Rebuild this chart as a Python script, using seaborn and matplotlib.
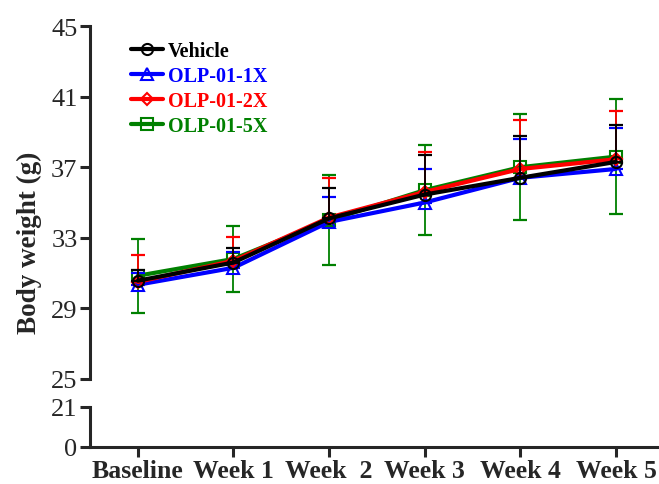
import matplotlib.pyplot as plt
import seaborn as sns
import pandas as pd

# Body weight means (g) and SD
weeks = ["Baseline", "Week 1", "Week  2", "Week 3", "Week 4", "Week 5"]

vehicle = [30.57, 31.6, 34.1, 35.45, 36.4, 37.3]
vehicle_sd = [0.63, 0.8, 1.7, 2.25, 2.35, 2.1]

olp_1x = [30.34, 31.3, 33.9, 35.0, 36.4, 36.9]
olp_1x_sd = [0.66, 0.9, 1.4, 1.9, 2.2, 2.3]

olp_2x = [30.5, 31.7, 34.15, 35.6, 36.9, 37.45]
olp_2x_sd = [1.55, 1.37, 2.25, 2.25, 2.8, 2.75]

olp_5x = [30.85, 31.8, 34.0, 35.7, 37.0, 37.6]
olp_5x_sd = [2.1, 1.85, 2.55, 2.55, 3.0, 3.25]

groups = ["Vehicle", "OLP-01-1X", "OLP-01-2X", "OLP-01-5X"]
colors = ["black", "#0000ff", "#ff0000", "#008000"]
markers = ["o", "^", "D", "s"]
means = [vehicle, olp_1x, olp_2x, olp_5x]
sds = [vehicle_sd, olp_1x_sd, olp_2x_sd, olp_5x_sd]
# only the 5X group shows the lower error bar
both_sides = [False, False, False, True]

sns.set_style("ticks")
plt.rcParams["font.family"] = ["Liberation Serif", "DejaVu Serif"]

fig = plt.figure(figsize=(6.59, 4.85), dpi=100)
ax = fig.add_axes([0.1366, 0.2165, 0.8634, 0.7278])
axb = fig.add_axes([0.1366, 0.0763, 0.8634, 0.0825])

pos = list(range(len(weeks)))
zorders = [6, 3, 4, 2]

for i in range(len(groups)):
    df = pd.DataFrame({"week": pos, "bw": means[i]})
    z = zorders[i]
    lower = sds[i] if both_sides[i] else [0] * len(weeks)
    ax.errorbar(pos, means[i], yerr=[lower, sds[i]], fmt="none",
                ecolor=colors[i], elinewidth=1.3, capsize=5, capthick=1.6,
                zorder=z)
    sns.lineplot(data=df, x="week", y="bw", ax=ax, color=colors[i],
                 marker=markers[i], markersize=8 if markers[i] != "D" else 6.5,
                 mfc="none", mec=colors[i], mew=1.5, lw=3.0,
                 label=groups[i], sort=False, zorder=z + 0.5)

ax.set_ylim(25, 45)
ax.set_yticks([25, 29, 33, 37, 41, 45])
ax.set_xlim(-0.5, 5.45)
ax.set_xlabel("")
ax.set_ylabel("")
ax.tick_params(axis="x", bottom=False, labelbottom=False)
ax.tick_params(axis="y", length=7, width=2.2, labelsize=19, pad=2)
for s in ["top", "right", "bottom"]:
    ax.spines[s].set_visible(False)
ax.spines["left"].set_linewidth(2.2)

axb.set_ylim(0, 21)
axb.set_yticks([0, 21])
axb.set_xlim(-0.5, 5.45)
axb.set_xticks(pos, weeks)
axb.tick_params(axis="y", length=7, width=2.2, labelsize=19, pad=2)
axb.tick_params(axis="x", length=7, width=2.2, labelsize=18.5, pad=2)
for lab in axb.get_xticklabels():
    lab.set_fontweight("bold")
for s in ["top", "right"]:
    axb.spines[s].set_visible(False)
axb.spines["left"].set_linewidth(2.2)
axb.spines["bottom"].set_linewidth(2.2)

fig.text(0.045, 0.50, "Body weight (g)", rotation=90, fontsize=19.5,
         fontweight="bold", ha="center", va="center")

leg = ax.legend(loc="upper left", bbox_to_anchor=(0.055, 0.987), frameon=False,
                fontsize=14.5, handlelength=1.55, handletextpad=0.25,
                labelspacing=0.25, borderpad=0, labelcolor="linecolor")
for t in leg.get_texts():
    t.set_fontweight("bold")

fig.savefig("out.png", dpi=100)
